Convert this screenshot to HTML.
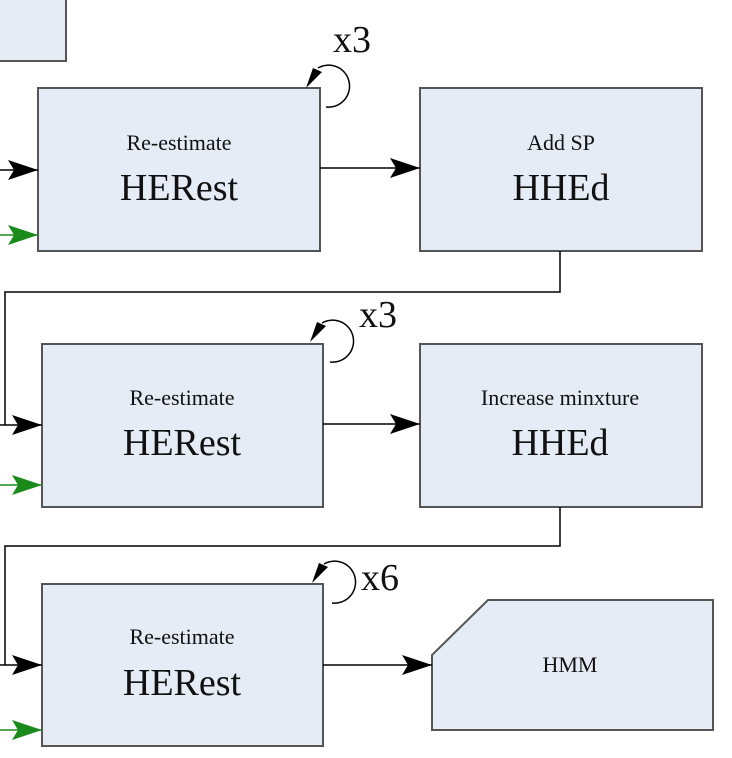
<!DOCTYPE html>
<html><head><style>body{margin:0;background:#fff}svg{display:block}</style></head><body>
<svg width="732" height="758" viewBox="0 0 732 758" xmlns="http://www.w3.org/2000/svg" font-family="Liberation Serif, serif">
<defs>
<marker id="a" markerWidth="32" markerHeight="22" refX="30" refY="11" orient="auto" markerUnits="userSpaceOnUse"><path d="M0,1 L30,11 L0,21 L6,11Z" fill="#000"/></marker>
<marker id="g" markerWidth="32" markerHeight="22" refX="30" refY="11" orient="auto" markerUnits="userSpaceOnUse"><path d="M0,1 L30,11 L0,21 L6,11Z" fill="#1a8a1a"/></marker>
<marker id="s" markerWidth="20" markerHeight="20" refX="18" refY="8" orient="auto" markerUnits="userSpaceOnUse"><path d="M0,0 L18,8 L0,16 L4,8Z" fill="#000"/></marker>
</defs>
<g fill="#e6ecf6" stroke="#555" stroke-width="2">
<rect x="-2" y="-2" width="68" height="63"/>
<rect x="38" y="88" width="282" height="163"/>
<rect x="420" y="88" width="282" height="163"/>
<rect x="42" y="344" width="281" height="163"/>
<rect x="420" y="344" width="282" height="163"/>
<rect x="42" y="584" width="281" height="162"/>
<path d="M488,600 L713,600 L713,730 L432,730 L432,655 Z"/>
</g>
<g stroke="#000" stroke-width="1.5" fill="none">
<line x1="0" y1="170" x2="38" y2="170" marker-end="url(#a)"/>
<line x1="0" y1="425" x2="42" y2="425" marker-end="url(#a)"/>
<line x1="0" y1="665" x2="42" y2="665" marker-end="url(#a)"/>
<line x1="320" y1="168" x2="420" y2="168" marker-end="url(#a)"/>
<line x1="323" y1="424" x2="420" y2="424" marker-end="url(#a)"/>
<line x1="323" y1="665" x2="432" y2="665" marker-end="url(#a)"/>
<path d="M560,251 V292 H5 V425"/>
<path d="M560,507 V546 H5 V665"/>
<path d="M326,109 A21,21 0 1 0 318,70" transform="translate(0,-2)"/>
<path d="M330,361 A21,21 0 1 0 322,322" transform="translate(0,1)"/>
<path d="M332,603 A21,21 0 1 0 324,564" transform="translate(0,0)"/>
</g>
<g fill="#000">
<path d="M306,88 L322,72 L313,68 Z"/>
<path d="M310,342 L326,326 L317,322 Z"/>
<path d="M312,583 L328,567 L319,563 Z"/>
</g>
<g stroke="#1a8a1a" stroke-width="1.5">
<line x1="0" y1="235" x2="38" y2="235" marker-end="url(#g)"/>
<line x1="0" y1="485" x2="42" y2="485" marker-end="url(#g)"/>
<line x1="0" y1="730" x2="42" y2="730" marker-end="url(#g)"/>
</g>
<g text-anchor="middle" fill="#111">
<text x="179" y="150" font-size="22">Re-estimate</text>
<text x="179" y="200" font-size="38">HERest</text>
<text x="561" y="150" font-size="22">Add SP</text>
<text x="561" y="200" font-size="38">HHEd</text>
<text x="182" y="405" font-size="22">Re-estimate</text>
<text x="182" y="455" font-size="38">HERest</text>
<text x="560" y="405" font-size="22">Increase minxture</text>
<text x="560" y="455" font-size="38">HHEd</text>
<text x="182" y="644" font-size="22">Re-estimate</text>
<text x="182" y="695" font-size="38">HERest</text>
<text x="570" y="672" font-size="22">HMM</text>
<text x="352" y="52" font-size="38">x3</text>
<text x="378" y="327" font-size="38">x3</text>
<text x="380" y="590" font-size="38">x6</text>
</g>
</svg>
</body></html>
